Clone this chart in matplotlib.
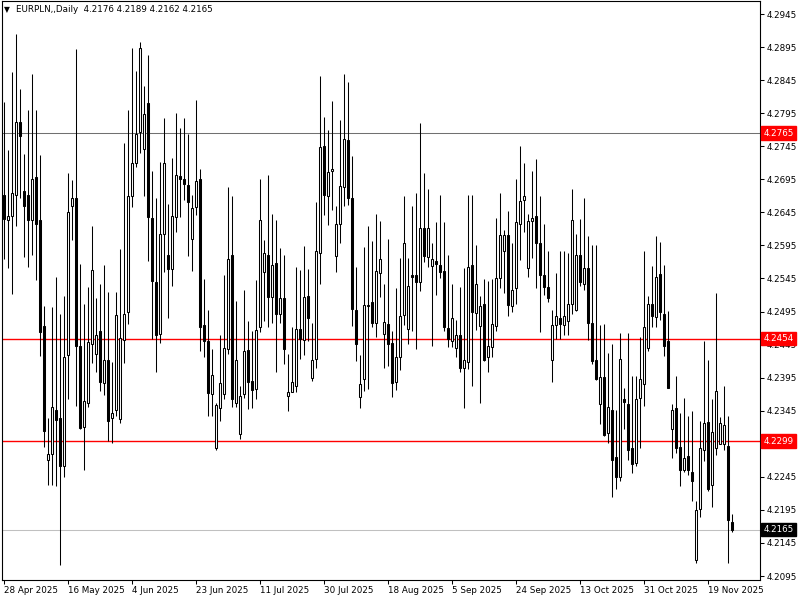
import numpy as np
import matplotlib.pyplot as plt
import matplotlib.transforms as mtransforms

# EURPLN daily candles (Mon-Fri plus the short Sunday bar), 28 Apr 2025 onwards
opens = [
    4.2671, 4.2634, 4.2639, 4.2671, 4.2782, 4.2678, 4.2671, 4.2633, 4.2698, 4.2633,
    4.2473, 4.2270, 4.2279, 4.2346, 4.2334, 4.2261, 4.2430, 4.2654, 4.2666, 4.2443,
    4.2321, 4.2357, 4.2446, 4.2431, 4.2465, 4.2387, 4.2422, 4.2334, 4.2346, 4.2332,
    4.2452, 4.2494, 4.2670, 4.2719, 4.2766, 4.2741, 4.2811, 4.2637, 4.2539, 4.2461,
    4.2612, 4.2580, 4.2560, 4.2638, 4.2700, 4.2695, 4.2686, 4.2604, 4.2653, 4.2695,
    4.2474, 4.2450, 4.2370, 4.2288, 4.2349, 4.2371, 4.2438, 4.2580, 4.2357, 4.2310,
    4.2370, 4.2437, 4.2390, 4.2378, 4.2471, 4.2555, 4.2581, 4.2517, 4.2569, 4.2492,
    4.2516, 4.2368, 4.2374, 4.2382, 4.2468, 4.2452, 4.2518, 4.2395, 4.2424, 4.2583,
    4.2746, 4.2670, 4.2708, 4.2579, 4.2627, 4.2683, 4.2755, 4.2666, 4.2498, 4.2366,
    4.2393, 4.2504, 4.2509, 4.2478, 4.2554, 4.2461, 4.2476, 4.2447, 4.2389, 4.2426,
    4.2490, 4.2469, 4.2550, 4.2551, 4.2540, 4.2621, 4.2577, 4.2564, 4.2571, 4.2565,
    4.2556, 4.2470, 4.2450, 4.2440, 4.2459, 4.2410, 4.2419, 4.2565, 4.2493, 4.2473,
    4.2506, 4.2426, 4.2442, 4.2473, 4.2545, 4.2587, 4.2611, 4.2503, 4.2530, 4.2628,
    4.2663, 4.2561, 4.2632, 4.2639, 4.2598, 4.2551, 4.2532, 4.2421, 4.2475, 4.2485,
    4.2474, 4.2480, 4.2506, 4.2498, 4.2580, 4.2536, 4.2561, 4.2478, 4.2421, 4.2355,
    4.2396, 4.2311, 4.2346, 4.2275, 4.2245, 4.2363, 4.2355, 4.2289, 4.2266, 4.2364,
    4.2385, 4.2440, 4.2506, 4.2487, 4.2552, 4.2492, 4.2450, 4.2317, 4.2349, 4.2290,
    4.2256, 4.2277, 4.2252, 4.2120, 4.2196, 4.2286, 4.2328, 4.2232, 4.2288, 4.2294,
    4.2294, 4.2291, 4.2176,
]
highs = [
    4.2812, 4.2740, 4.2858, 4.2915, 4.2832, 4.2734, 4.2800, 4.2855, 4.2800, 4.2732,
    4.2504, 4.2334, 4.2502, 4.2547, 4.2492, 4.2519, 4.2704, 4.2694, 4.2892, 4.2567,
    4.2506, 4.2532, 4.2624, 4.2515, 4.2536, 4.2565, 4.2524, 4.2419, 4.2525, 4.2590,
    4.2750, 4.2800, 4.2894, 4.2859, 4.2903, 4.2836, 4.2883, 4.2707, 4.2666, 4.2721,
    4.2788, 4.2658, 4.2727, 4.2795, 4.2772, 4.2787, 4.2764, 4.2671, 4.2815, 4.2710,
    4.2544, 4.2497, 4.2438, 4.2357, 4.2459, 4.2551, 4.2683, 4.2670, 4.2511, 4.2383,
    4.2527, 4.2481, 4.2466, 4.2542, 4.2695, 4.2603, 4.2702, 4.2643, 4.2633, 4.2591,
    4.2581, 4.2431, 4.2472, 4.2563, 4.2558, 4.2594, 4.2560, 4.2477, 4.2661, 4.2852,
    4.2790, 4.2770, 4.2814, 4.2654, 4.2785, 4.2855, 4.2842, 4.2731, 4.2562, 4.2429,
    4.2592, 4.2624, 4.2602, 4.2643, 4.2632, 4.2536, 4.2604, 4.2466, 4.2530, 4.2576,
    4.2670, 4.2576, 4.2655, 4.2674, 4.2780, 4.2704, 4.2681, 4.2599, 4.2630, 4.2672,
    4.2631, 4.2580, 4.2537, 4.2482, 4.2532, 4.2561, 4.2671, 4.2671, 4.2595, 4.2518,
    4.2544, 4.2541, 4.2544, 4.2637, 4.2675, 4.2618, 4.2647, 4.2598, 4.2695, 4.2745,
    4.2720, 4.2642, 4.2708, 4.2725, 4.2670, 4.2627, 4.2586, 4.2498, 4.2554, 4.2586,
    4.2586, 4.2583, 4.2680, 4.2612, 4.2635, 4.2667, 4.2609, 4.2596, 4.2596, 4.2475,
    4.2476, 4.2433, 4.2446, 4.2346, 4.2462, 4.2380, 4.2462, 4.2397, 4.2397, 4.2457,
    4.2586, 4.2519, 4.2564, 4.2609, 4.2600, 4.2565, 4.2496, 4.2355, 4.2397, 4.2341,
    4.2364, 4.2337, 4.2344, 4.2208, 4.2330, 4.2450, 4.2422, 4.2362, 4.2523, 4.2336,
    4.2382, 4.2337, 4.2189,
]
lows = [
    4.2574, 4.2561, 4.2521, 4.2625, 4.2667, 4.2578, 4.2563, 4.2580, 4.2543, 4.2428,
    4.2290, 4.2232, 4.2232, 4.2231, 4.2111, 4.2245, 4.2362, 4.2603, 4.2352, 4.2317,
    4.2256, 4.2351, 4.2417, 4.2404, 4.2375, 4.2369, 4.2299, 4.2296, 4.2337, 4.2327,
    4.2417, 4.2476, 4.2653, 4.2714, 4.2735, 4.2670, 4.2572, 4.2454, 4.2403, 4.2447,
    4.2555, 4.2485, 4.2534, 4.2615, 4.2638, 4.2663, 4.2579, 4.2556, 4.2641, 4.2435,
    4.2426, 4.2337, 4.2337, 4.2286, 4.2329, 4.2363, 4.2431, 4.2350, 4.2350, 4.2302,
    4.2365, 4.2347, 4.2349, 4.2363, 4.2464, 4.2481, 4.2472, 4.2478, 4.2403, 4.2477,
    4.2415, 4.2345, 4.2373, 4.2374, 4.2423, 4.2430, 4.2451, 4.2390, 4.2410, 4.2536,
    4.2641, 4.2626, 4.2649, 4.2555, 4.2598, 4.2654, 4.2656, 4.2473, 4.2420, 4.2349,
    4.2375, 4.2378, 4.2472, 4.2456, 4.2517, 4.2410, 4.2413, 4.2366, 4.2376, 4.2406,
    4.2475, 4.2446, 4.2466, 4.2438, 4.2526, 4.2570, 4.2562, 4.2443, 4.2520, 4.2546,
    4.2465, 4.2441, 4.2442, 4.2426, 4.2404, 4.2349, 4.2408, 4.2383, 4.2467, 4.2356,
    4.2420, 4.2403, 4.2426, 4.2466, 4.2530, 4.2523, 4.2488, 4.2494, 4.2506, 4.2573,
    4.2616, 4.2548, 4.2576, 4.2531, 4.2464, 4.2520, 4.2509, 4.2389, 4.2454, 4.2454,
    4.2460, 4.2459, 4.2492, 4.2496, 4.2533, 4.2528, 4.2452, 4.2415, 4.2392, 4.2325,
    4.2307, 4.2296, 4.2214, 4.2227, 4.2239, 4.2317, 4.2271, 4.2251, 4.2261, 4.2289,
    4.2352, 4.2435, 4.2472, 4.2472, 4.2482, 4.2428, 4.2379, 4.2274, 4.2281, 4.2231,
    4.2253, 4.2248, 4.2209, 4.2114, 4.2185, 4.2269, 4.2224, 4.2199, 4.2278, 4.2294,
    4.2285, 4.2114, 4.2162,
]
closes = [
    4.2635, 4.2639, 4.2674, 4.2782, 4.2760, 4.2654, 4.2633, 4.2696, 4.2627, 4.2464,
    4.2314, 4.2280, 4.2351, 4.2331, 4.2261, 4.2427, 4.2645, 4.2666, 4.2443, 4.2319,
    4.2360, 4.2449, 4.2558, 4.2459, 4.2389, 4.2421, 4.2330, 4.2341, 4.2490, 4.2455,
    4.2491, 4.2670, 4.2719, 4.2764, 4.2894, 4.2794, 4.2638, 4.2541, 4.2460, 4.2612,
    4.2719, 4.2560, 4.2640, 4.2701, 4.2696, 4.2688, 4.2660, 4.2651, 4.2692, 4.2471,
    4.2450, 4.2372, 4.2399, 4.2353, 4.2387, 4.2440, 4.2575, 4.2363, 4.2421, 4.2368,
    4.2436, 4.2389, 4.2376, 4.2467, 4.2633, 4.2583, 4.2517, 4.2565, 4.2492, 4.2515,
    4.2439, 4.2374, 4.2389, 4.2468, 4.2453, 4.2517, 4.2485, 4.2422, 4.2586, 4.2744,
    4.2672, 4.2706, 4.2711, 4.2627, 4.2685, 4.2756, 4.2666, 4.2499, 4.2446, 4.2385,
    4.2505, 4.2505, 4.2477, 4.2556, 4.2575, 4.2479, 4.2446, 4.2387, 4.2426, 4.2489,
    4.2598, 4.2533, 4.2547, 4.2539, 4.2621, 4.2579, 4.2621, 4.2574, 4.2567, 4.2555,
    4.2471, 4.2454, 4.2485, 4.2459, 4.2410, 4.2421, 4.2563, 4.2494, 4.2536, 4.2504,
    4.2422, 4.2443, 4.2476, 4.2546, 4.2611, 4.2611, 4.2505, 4.2528, 4.2630, 4.2662,
    4.2670, 4.2632, 4.2637, 4.2599, 4.2551, 4.2532, 4.2515, 4.2474, 4.2489, 4.2476,
    4.2489, 4.2506, 4.2633, 4.2581, 4.2540, 4.2561, 4.2478, 4.2420, 4.2393, 4.2396,
    4.2309, 4.2350, 4.2271, 4.2245, 4.2424, 4.2358, 4.2286, 4.2265, 4.2363, 4.2393,
    4.2471, 4.2506, 4.2489, 4.2548, 4.2495, 4.2443, 4.2379, 4.2346, 4.2289, 4.2256,
    4.2273, 4.2256, 4.2238, 4.2195, 4.2288, 4.2327, 4.2227, 4.2313, 4.2375, 4.2326,
    4.2323, 4.2180, 4.2165,
]

date_labels = ['28 Apr 2025', '16 May 2025', '4 Jun 2025', '23 Jun 2025', '11 Jul 2025',
               '30 Jul 2025', '18 Aug 2025', '5 Sep 2025', '24 Sep 2025', '13 Oct 2025',
               '31 Oct 2025', '19 Nov 2025']
date_bars = [0, 16, 32, 48, 64, 80, 96, 112, 128, 144, 160, 176]

levels = [4.2765, 4.2454, 4.2299]
bid = 4.2165
header = 'EURPLN,,Daily  4.2176 4.2189 4.2162 4.2165'

o = np.array(opens)
h = np.array(highs)
l = np.array(lows)
c = np.array(closes)
x = np.arange(len(o))
up = c >= o

fig = plt.figure(figsize=(8, 6), dpi=100)
ax = fig.add_axes([2 / 800, 20 / 600, 758 / 800, 579 / 600])

ax.vlines(x, l, h, color='black', linewidth=0.75, zorder=2)
ax.bar(x[up], (c - o)[up], bottom=o[up], width=0.5, color='white',
       edgecolor='black', linewidth=0.75, zorder=3)
ax.bar(x[~up], (o - c)[~up], bottom=c[~up], width=0.5, color='black',
       edgecolor='black', linewidth=0.75, zorder=3)

ax.axhline(levels[0], color='#707070', linewidth=0.75, zorder=1)
ax.axhline(levels[1], color='#ff0000', linewidth=1.0, zorder=1)
ax.axhline(levels[2], color='#ff0000', linewidth=1.0, zorder=1)
ax.axhline(bid, color='#c0c0c0', linewidth=0.75, zorder=1)

ax.set_xlim(-0.375, 189.125)
ax.set_ylim(4.20890, 4.29647)

ax.yaxis.tick_right()
yt = np.arange(4.2095, 4.2950, 0.005)
ax.set_yticks(yt)
ax.set_yticklabels(['%.4f' % v for v in yt])
ax.tick_params(axis='y', length=3, width=0.75, labelsize=6.3, pad=2)

ax.set_xticks(date_bars)
ax.set_xticklabels(date_labels, ha='left')
ax.tick_params(axis='x', length=3, width=0.75, labelsize=6.3, pad=1)
for t in ax.get_xticklabels():
    t.set_x(0)

for sp in ax.spines.values():
    sp.set_linewidth(0.8)
    sp.set_color('black')

trans = mtransforms.blended_transform_factory(ax.transAxes, ax.transData)
for lv, col in [(levels[0], '#ff0000'), (levels[1], '#ff0000'),
                (levels[2], '#ff0000'), (bid, 'black')]:
    ax.annotate('%.4f' % lv, xy=(1.0, lv), xycoords=trans, xytext=(2.5, 0),
                textcoords='offset points', ha='left', va='center', fontsize=6.3,
                color='white', annotation_clip=False, zorder=5,
                bbox=dict(boxstyle='square,pad=0.25', fc=col, ec=col))

fig.text(4 / 800, 1 - 10 / 600, '\u25bc', fontsize=5.5, va='center', ha='left')
fig.text(16 / 800, 1 - 10 / 600, header, fontsize=6.3, va='center', ha='left')

fig.savefig('out.png', dpi=100)
